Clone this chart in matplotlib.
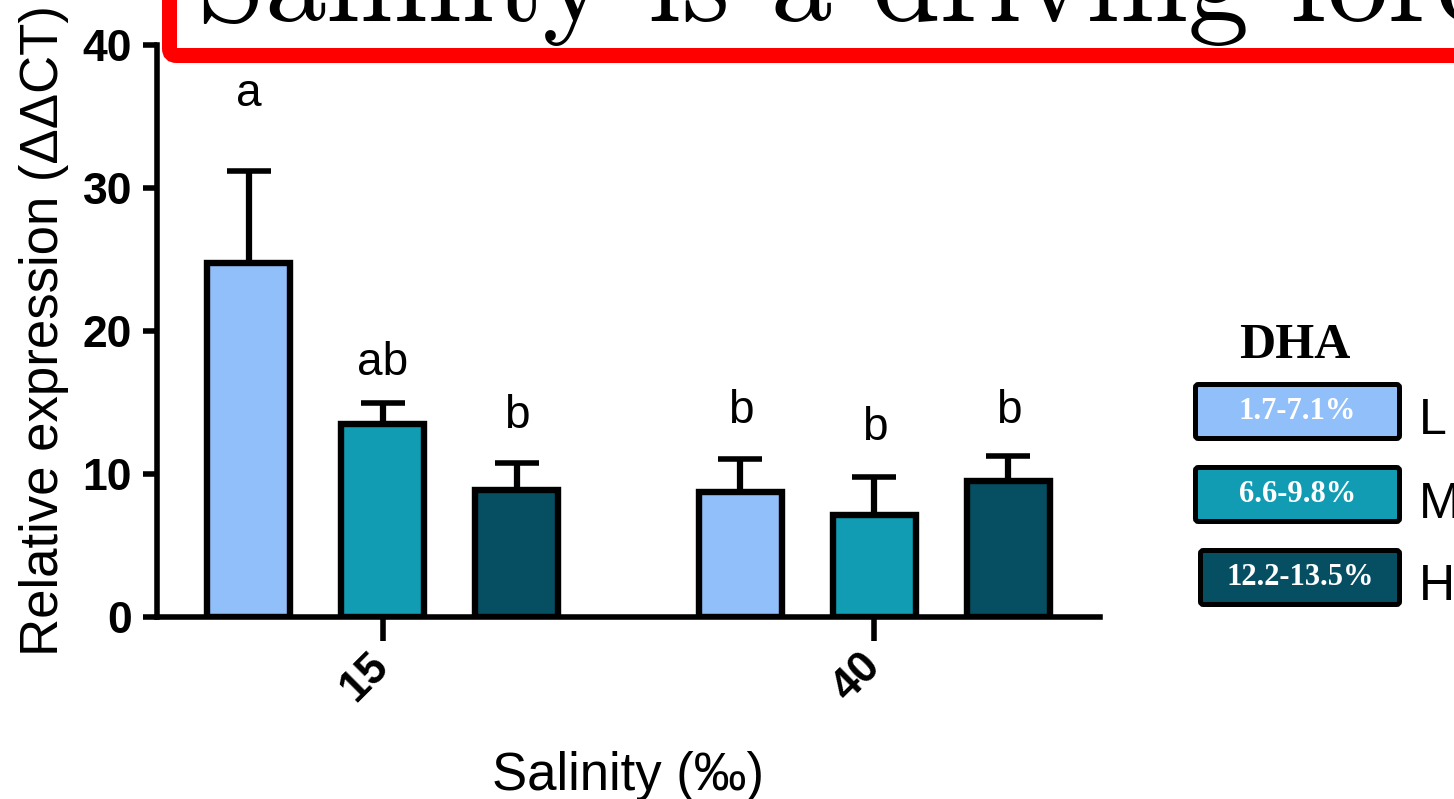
import numpy as np
import matplotlib
matplotlib.use("Agg")
import matplotlib.pyplot as plt
from matplotlib.patches import FancyBboxPatch

# data
salinity = ["15", "40"]
dha_levels = ["L", "M", "H"]
dha_ranges = ["1.7-7.1%", "6.6-9.8%", "12.2-13.5%"]
colors = ["#91bffa", "#119cb4", "#064f62"]
means = [24.75, 13.5, 8.9, 8.75, 7.1, 9.5]
err_top = [31.2, 15.0, 10.8, 11.05, 9.8, 11.25]
letters = ["a", "ab", "b", "b", "b", "b"]
letter_y = [35.7, 16.9, 13.2, 13.6, 12.4, 13.55]

W, H = 1454, 799
fig = plt.figure(figsize=(W / 100, H / 100), dpi=100)
ax = fig.add_axes([157 / W, (H - 617) / H, (1100 - 157) / W, 572 / H])

sans = "Liberation Sans"
serif = "Liberation Serif"

group_gap = 3.67
x = np.array([g * group_gap + k for g in range(len(salinity)) for k in (-1, 0, 1)])
bar_cols = colors * len(salinity)
upper = np.array(err_top) - np.array(means)

ax.errorbar(x, means, yerr=[np.zeros_like(upper), upper], fmt="none",
            ecolor="black", elinewidth=4.5, capsize=15.5, capthick=4, zorder=1)
ax.bar(x, means, width=0.62, color=bar_cols, edgecolor="black",
       linewidth=4.6, zorder=2)

for xi, lab, ly in zip(x, letters, letter_y):
    ax.text(xi, ly, lab, ha="center", va="baseline", fontsize=33,
            family=sans)

ax.set_xlim(-1.683, 5.354)
ax.set_ylim(0, 40)
ax.set_yticks([0, 10, 20, 30, 40])
ax.set_xticks([g * group_gap for g in range(len(salinity))])
ax.set_xticklabels(salinity, rotation=45, ha="right", va="center",
                   rotation_mode="anchor")
for lab in ax.get_xticklabels() + ax.get_yticklabels():
    lab.set_fontsize(32)
    lab.set_fontweight("bold")
    lab.set_family(sans)

for s in ["top", "right"]:
    ax.spines[s].set_visible(False)
for s in ["left", "bottom"]:
    ax.spines[s].set_linewidth(4)
ax.tick_params(axis="y", length=10, width=4, pad=8)
ax.tick_params(axis="x", length=17, width=4, pad=14)

ax.set_ylabel("Relative expression (\u0394\u0394CT)", fontsize=38,
              family=sans, labelpad=10)
ax.set_xlabel("Salinity (\u2030)", fontsize=38, family=sans, labelpad=30)

# title box, cut by the figure edges
inch = fig.dpi_scale_trans
title_box = FancyBboxPatch((1.695, (H - 55.5) / 100), 15, 3,
                           boxstyle="round,pad=0,rounding_size=0.07",
                           transform=inch, facecolor="white",
                           edgecolor="#ff0000", linewidth=10.8, zorder=5)
fig.patches.append(title_box)
fig.text(197 / W, (H - 21) / H, "Salinity is a driving force",
         family="cmr10", fontsize=88, ha="left", va="baseline", zorder=6)

# DHA legend
fig.text(1295 / W, (H - 358) / H, "DHA", family=serif, fontweight="bold",
         fontsize=36, ha="center", va="baseline")
box_left = [1195.5, 1195.5, 1200.5]
for i, (rng, lev, col) in enumerate(zip(dha_ranges, dha_levels, colors)):
    cy = 411.5 + i * 83
    x0 = box_left[i]
    bw = 1399.5 - x0
    bh = 54
    p = FancyBboxPatch((x0 / 100, (H - cy - bh / 2) / 100), bw / 100, bh / 100,
                       boxstyle="round,pad=0,rounding_size=0.03",
                       transform=inch, facecolor=col, edgecolor="black",
                       linewidth=3.6)
    fig.patches.append(p)
    fig.text((x0 + bw / 2) / W, (H - cy) / H, rng, family=serif,
             fontweight="bold", fontsize=22, color="white",
             ha="center", va="center")
    fig.text(1419 / W, (H - cy - 23) / H, lev, family=sans, fontsize=36,
             ha="left", va="baseline")

fig.savefig("out.png", dpi=100)
